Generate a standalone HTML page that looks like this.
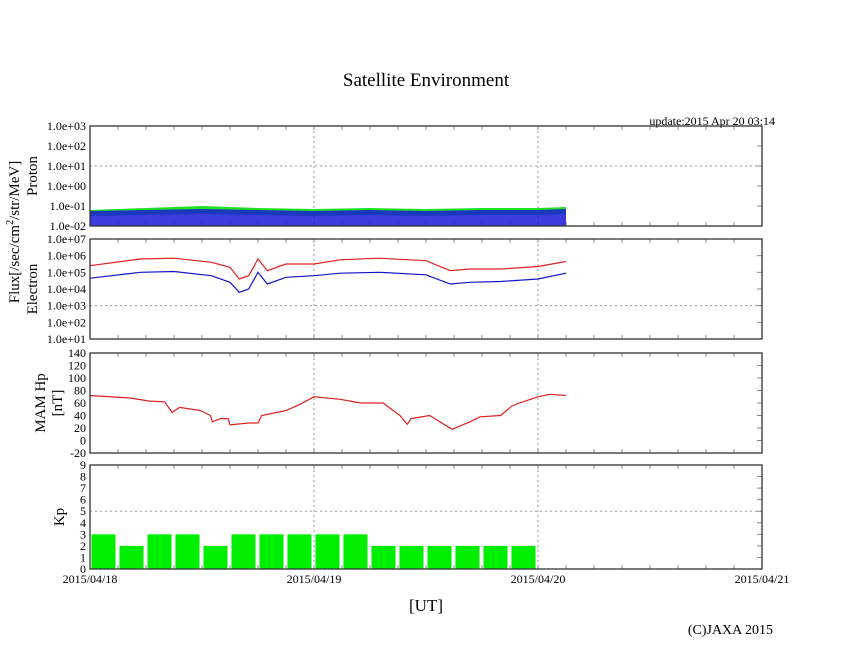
<!DOCTYPE html>
<html><head><meta charset="utf-8"><style>
body{margin:0;background:#fff}
svg{display:block;font-family:"Liberation Serif",serif}
</style></head><body>
<svg id="c" width="846" height="655" xmlns="http://www.w3.org/2000/svg">
<rect width="846" height="655" fill="#fff"/>
<text x="426" y="86" font-size="19" text-anchor="middle">Satellite Environment</text>
<text x="775" y="125" font-size="12" text-anchor="end">update:2015 Apr 20 03:14</text>
<text x="426" y="611" font-size="17" text-anchor="middle">[UT]</text>
<text x="773" y="634" font-size="14" text-anchor="end">(C)JAXA 2015</text>
<text transform="translate(19,232) rotate(-90)" font-size="15" text-anchor="middle">Flux[/sec/cm<tspan font-size="10" dy="-6">2</tspan><tspan dy="6">/str/MeV]</tspan></text>
<text transform="translate(37,176) rotate(-90)" font-size="15" text-anchor="middle">Proton</text>
<text transform="translate(37,289) rotate(-90)" font-size="15" text-anchor="middle">Electron</text>
<text transform="translate(45,403) rotate(-90)" font-size="15" text-anchor="middle">MAM Hp</text>
<text transform="translate(62,403) rotate(-90)" font-size="15" text-anchor="middle">[nT]</text>
<text transform="translate(64,517) rotate(-90)" font-size="15" text-anchor="middle">Kp</text>
<g id="g"></g>
</svg>
<script>
// data (hours since 2015/04/18 00:00 UT)
const dayLabels=["2015/04/18","2015/04/19","2015/04/20","2015/04/21"];
const protonTicks=["1.0e-02","1.0e-01","1.0e+00","1.0e+01","1.0e+02","1.0e+03"];
const electronTicks=["1.0e+01","1.0e+02","1.0e+03","1.0e+04","1.0e+05","1.0e+06","1.0e+07"];
const mamTicks=[-20,0,20,40,60,80,100,120,140];
const kpTicks=[0,1,2,3,4,5,6,7,8,9];
const kpValues=[3,2,3,3,2,3,3,3,3,3,2,2,2,2,2,2];
const mamHours=[0,4.3,6.4,8,8.8,9.6,11.8,12.9,13.1,14,14.8,15,17,18,18.4,21,22.5,24,26.8,29,31.4,33.2,34,34.4,36.4,38.8,40.7,41.8,44,45.2,46,48,49.3,51];
const mamValues=[72,68,63,62,45,53,48,40,30,35,35,25,28,28,40,48,58,70,66,60,60,40,26,35,40,18,30,38,40,55,60,70,74,72];
const eHours=[0,5.4,9,13,15,16,17,18,19,21,24,26.8,31,36,38.6,40.7,44,48,51];
const eRed=[5.4,5.8,5.85,5.6,5.3,4.6,4.8,5.8,5.1,5.5,5.5,5.75,5.85,5.7,5.1,5.2,5.2,5.35,5.65];
const eBlue=[4.65,5.0,5.05,4.8,4.4,3.8,4.0,5.0,4.3,4.7,4.8,4.95,5.0,4.85,4.3,4.4,4.45,4.6,4.95];
const pHours=[0,6,12,18,24,30,36,42,48,51];
const pGreenHi=[-1.2,-1.1,-1.0,-1.1,-1.15,-1.1,-1.15,-1.1,-1.1,-1.05];
const pGreenLo=[-1.5,-1.45,-1.4,-1.45,-1.5,-1.45,-1.5,-1.45,-1.45,-1.4];
const pBlueHi=[-1.0,-1.05,-1.1,-1.05,-1.05,-1.1,-1.05,-1.1,-1.05,-1.0];
const pBlueLo=[-2,-2,-2,-2,-2,-2,-2,-2,-2,-2];

const NS="http://www.w3.org/2000/svg";
const G=document.getElementById('g');
function mk(t,a,p){const e=document.createElementNS(NS,t);for(const k in a)e.setAttribute(k,a[k]);(p||G).appendChild(e);return e;}
const X0=90,X1=762;
const xs=h=>X0+(X1-X0)*h/72;
function panel(name,top,bot,ymin,ymax,labels,vals,gridVals){
  const ys=v=>bot-(v-ymin)/(ymax-ymin)*(bot-top);
  const g=mk('g',{});
  
  
  [1,2].forEach(d=>{const l=mk('line',{x1:xs(d*24),x2:xs(d*24),y1:top,y2:bot,stroke:'#999','stroke-dasharray':'2,3'},g);});
  gridVals.forEach(v=>{const l=mk('line',{x1:X0,x2:X1,y1:ys(v),y2:ys(v),stroke:'#999','stroke-dasharray':'2,3'},g);});
  for(let h=3;h<72;h+=3){mk('line',{x1:xs(h),x2:xs(h),y1:top,y2:top+4,stroke:'#888'},g);mk('line',{x1:xs(h),x2:xs(h),y1:bot,y2:bot-4,stroke:'#888'},g);}
  labels.forEach((lab,i)=>{const v=vals[i];const y=ys(v);
    mk('line',{x1:X1,x2:X1-5,y1:y,y2:y,stroke:'#888'},g);
    const t=mk('text',{x:X0-4,y:y+4,'font-size':12,'text-anchor':'end'},g);t.textContent=lab;
    });
  return {ys,g,top,bot};
}
function frame(p){const r=mk('rect',{x:X0,y:p.top,width:X1-X0,height:p.bot-p.top,fill:'none',stroke:'#333','stroke-width':1.3});}
function line(p,hs,vs,col,name){const d=hs.map((h,i)=>(i?'L':'M')+xs(h).toFixed(1)+','+p.ys(vs[i]).toFixed(1)).join('');const e=mk('path',{d,fill:'none',stroke:col,'stroke-width':1.2},p.g);}
function band(p,hs,hi,lo,col,name,op){let d=hs.map((h,i)=>(i?'L':'M')+xs(h).toFixed(1)+','+p.ys(hi[i]).toFixed(1)).join('');
  for(let i=hs.length-1;i>=0;i--)d+='L'+xs(hs[i]).toFixed(1)+','+p.ys(lo[i]).toFixed(1);
  const e=mk('path',{d:d+'Z',fill:col,'fill-opacity':op||1},p.g);}

// Proton
const pp=panel('proton',126,226,-2,3,protonTicks,[-2,-1,0,1,2,3],[1]);
band(pp,pHours,pGreenHi,pGreenLo,'#22e022','proton-green-series');
band(pp,pHours,pBlueHi.map((v,i)=>Math.min(v,pGreenLo[i]+0.25)),pBlueLo,'#1a1ad8','proton-blue-series',0.85);
frame(pp);
// Electron
const ep=panel('electron',239,339,1,7,electronTicks,[1,2,3,4,5,6,7],[3]);
line(ep,eHours,eRed,'#e02020','electron-red-series');
line(ep,eHours,eBlue,'#1515c8','electron-blue-series');
frame(ep);
// MAM
const mp=panel('mam',353,453,-20,140,mamTicks.map(String),mamTicks,[]);
line(mp,mamHours,mamValues,'#e02020','mam-hp-series');
frame(mp);
// Kp
const kp=panel('kp',465,569,0,9,kpTicks.map(String),kpTicks,[5]);
kpValues.forEach((v,i)=>{const x=xs(i*3)+1.5,w=xs(3)-X0-4;
  const r=mk('rect',{x,y:kp.ys(v),width:w,height:kp.ys(0)-kp.ys(v),fill:'#00ee00'},kp.g);
  });
frame(kp);
dayLabels.forEach((l,i)=>{const t=mk('text',{x:xs(i*24),y:583,'font-size':12,'text-anchor':'middle'});t.textContent=l;
  });
</script>
</body></html>
